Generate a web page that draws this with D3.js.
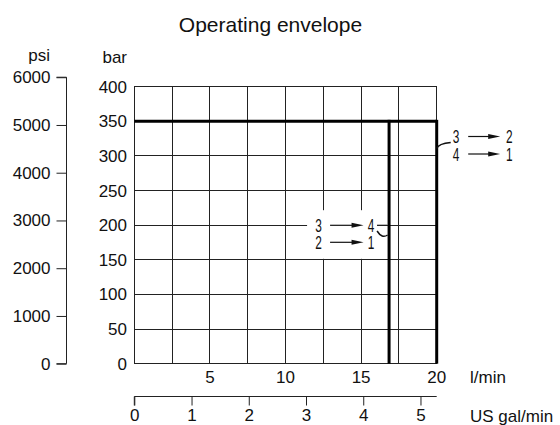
<!DOCTYPE html>
<html><head><meta charset="utf-8">
<script src="https://cdn.jsdelivr.net/npm/d3@7/dist/d3.min.js"></script>
<style>body{margin:0;background:#fff}svg{display:block}text{font-family:"Liberation Sans",Arial,sans-serif;fill:#111}</style>
</head><body><svg id="c" width="560" height="425"></svg>
<script>
const title = "Operating envelope";
const barTicks = [0,50,100,150,200,250,300,350,400];
const psiTicks = [0,1000,2000,3000,4000,5000,6000];
const flowTicks = [5,10,15,20];
const flowGrid = [0,2.5,5,7.5,10,12.5,15,17.5,20];
const galTicks = [0,1,2,3,4,5];
const PSI_PER_BAR = 14.5038;
const L_PER_GAL = 3.78541;
// envelope limits: max pressure (bar) and two max flows (l/min)
const maxPressure = 350;
const maxFlows = [16.85, 20];
// annotations
const noteRight = {flow:20, bar:315, lines:[["3","2"],["4","1"]]};
const noteMid = {flow:16.85, bar:200, lines:[["3","4"],["2","1"]]};

const svg = d3.select("#c");
const x = d3.scaleLinear().domain([0,20]).range([134.3,436.7]);
const y = d3.scaleLinear().domain([0,400]).range([363.7,86.7]);
const yPsi = d3.scaleLinear().domain([0,6000]).range([y(0), y(6000/PSI_PER_BAR)]);
const xGal = d3.scaleLinear().domain([0,20/L_PER_GAL]).range([x(0), x(20)]);
const fmt = d3.format("d");

svg.append("text").attr("x",270.5).attr("y",31.5).attr("text-anchor","middle")
  .style("font-size","21px").text(title);

// grid
const g = svg.append("g");
g.selectAll(".v").data(flowGrid).join("line")
  .attr("x1",d=>x(d)).attr("x2",d=>x(d)).attr("y1",y(0)).attr("y2",y(400))
  .attr("stroke","#222").attr("stroke-width",1).attr("shape-rendering","crispEdges");
g.selectAll(".h").data(barTicks).join("line")
  .attr("y1",d=>y(d)).attr("y2",d=>y(d)).attr("x1",x(0)).attr("x2",x(20))
  .attr("stroke","#222").attr("stroke-width",1).attr("shape-rendering","crispEdges");

// bar axis labels
svg.selectAll(".bl").data(barTicks).join("text")
  .attr("x",127).attr("y",d=>y(d)+6).attr("text-anchor","end")
  .style("font-size","17px").text(d=>d);
svg.append("text").attr("x",127).attr("y",63).attr("text-anchor","end").style("font-size","17px").text("bar");

// psi axis
const psiAxis = d3.axisLeft(yPsi).tickValues(psiTicks).tickFormat(fmt).tickSize(10).tickPadding(6);
const pa = svg.append("g").attr("transform","translate(66.5,0)").call(psiAxis);
pa.select(".domain").attr("d",`M-10,${yPsi(6000)}H0V${yPsi(0)}H-10`).attr("stroke","#222");
pa.selectAll(".tick line").attr("stroke","#222");
pa.selectAll("text").style("font-size","17px").style("font-family",'"Liberation Sans",Arial,sans-serif').attr("fill","#111");
svg.append("text").attr("x",50).attr("y",61).attr("text-anchor","end").style("font-size","17px").text("psi");

// flow labels
svg.selectAll(".fl").data(flowTicks).join("text")
  .attr("x",d=>x(d)).attr("y",383).attr("text-anchor","middle")
  .style("font-size","17px").text(d=>d);
svg.append("text").attr("x",470).attr("y",383).style("font-size","17px").text("l/min");

// gal axis
const galAxis = d3.axisBottom(xGal).tickValues(galTicks).tickFormat(fmt).tickSize(9).tickPadding(3).tickSizeOuter(0);
const ga = svg.append("g").attr("transform","translate(0,396.5)").call(galAxis);
ga.select(".domain").attr("d",`M${x(0)},9V0H${x(20)}`).attr("stroke","#222");
ga.selectAll(".tick line").attr("stroke","#222");
ga.selectAll("text").style("font-size","17px").style("font-family",'"Liberation Sans",Arial,sans-serif').attr("fill","#111");
svg.append("text").attr("x",470).attr("y",422).style("font-size","17px").text("US gal/min");

// envelope heavy lines
svg.append("line").attr("x1",x(0)).attr("x2",x(20)).attr("y1",y(maxPressure)).attr("y2",y(maxPressure))
  .attr("stroke","#000").attr("stroke-width",3);
svg.selectAll(".mf").data(maxFlows).join("line")
  .attr("x1",d=>x(d)).attr("x2",d=>x(d)).attr("y1",y(maxPressure)-1.5).attr("y2",y(0))
  .attr("stroke","#000").attr("stroke-width",3);

// annotation helpers
function narrow(px,py,txt){
  svg.append("text").attr("x",px-3.3).attr("y",py)
    .attr("textLength",6.6).attr("lengthAdjust","spacingAndGlyphs")
    .style("font-size","19px").text(txt);
}
function arrow(x1,x2,yy){
  svg.append("line").attr("x1",x1).attr("x2",x2-8).attr("y1",yy).attr("y2",yy).attr("stroke","#111").attr("stroke-width",1.2);
  svg.append("path").attr("d",`M${x2-12},${yy-2.5}L${x2},${yy}L${x2-12},${yy+2.5}Z`).attr("fill","#111");
}

// right annotation
{
  const bx = x(noteRight.flow), by = y(noteRight.bar);
  svg.append("path").attr("d",`M${bx},${by+3} Q${bx+2},${by-2} ${bx+14},${by-3}`).attr("fill","none").attr("stroke","#111").attr("stroke-width",1.5);
  const rows=[143.3,160.5], ay=[136.5,154];
  noteRight.lines.forEach((r,i)=>{
    narrow(bx+19.3,rows[i],r[0]);
    arrow(bx+31.5,bx+63.5,ay[i]);
    narrow(bx+72.5,rows[i],r[1]);
  });
}
// middle annotation (white box)
{
  const bx = x(noteMid.flow);
  svg.append("rect").attr("x",bx-82).attr("y",y(noteMid.bar)-15).attr("width",70).attr("height",y(150)-y(noteMid.bar)+14)
    .attr("fill","#fff");
  svg.append("line").attr("x1",bx-12).attr("x2",bx-1.5).attr("y1",y(noteMid.bar)).attr("y2",y(noteMid.bar)).attr("stroke","#222");
  const rows=[231.7,249.3], ay=[225.3,242.3];
  noteMid.lines.forEach((r,i)=>{
    narrow(bx-70.5,rows[i],r[0]);
    arrow(bx-59,bx-25.5,ay[i]);
    narrow(bx-18,rows[i],r[1]);
  });
  svg.append("path").attr("d",`M${bx-12},${231} Q${bx-7},${239} ${bx-1.5},${235}`).attr("fill","none").attr("stroke","#111").attr("stroke-width",1.5);
}
</script></body></html>
